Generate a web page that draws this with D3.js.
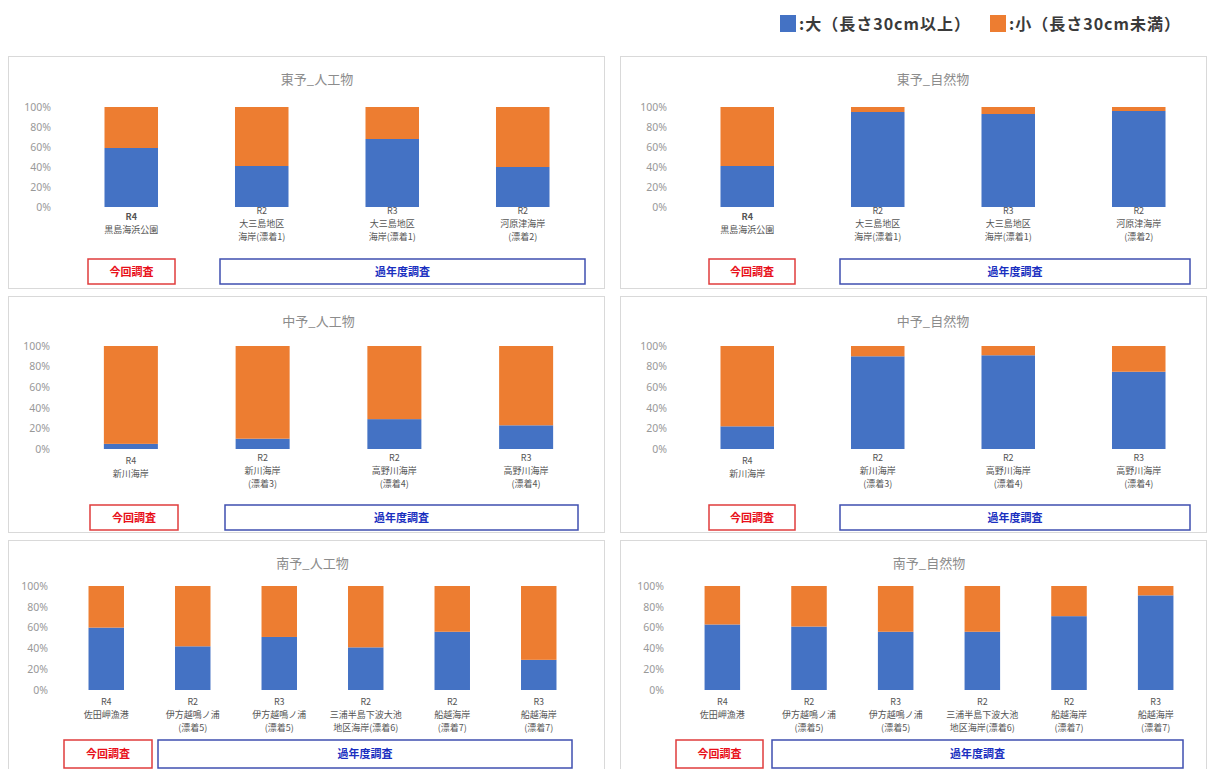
<!DOCTYPE html>
<html>
<head>
<meta charset="utf-8">
<script src="https://d3js.org/d3.v7.min.js"></script>
<style>
  body { margin: 0; background: #fff; }
  svg { display: block; font-family: "Noto Sans CJK JP", "Noto Sans", sans-serif; }
</style>
</head>
<body>
<div id="chart"></div>
<script>
// series names (legend)
var seriesNames = [":大（長さ30cm以上）", ":小（長さ30cm未満）"];
var seriesColors = ["#4472c4", "#ed7d31"];

// panel titles
var panelTitles = ["東予_人工物", "東予_自然物", "中予_人工物", "中予_自然物", "南予_人工物", "南予_自然物"];

// categories (label lines)
var toyoSites = [["R4", "黒島海浜公園"], ["R2", "大三島地区", "海岸(漂着1)"], ["R3", "大三島地区", "海岸(漂着1)"], ["R2", "河原津海岸", "(漂着2)"]];
var chuyoSites = [["R4", "新川海岸"], ["R2", "新川海岸", "(漂着3)"], ["R2", "高野川海岸", "(漂着4)"], ["R3", "高野川海岸", "(漂着4)"]];
var nanyoSites = [["R4", "佐田岬漁港"], ["R2", "伊方越鳴ノ浦", "(漂着5)"], ["R3", "伊方越鳴ノ浦", "(漂着5)"], ["R2", "三浦半島下波大池", "地区海岸(漂着6)"], ["R2", "船越海岸", "(漂着7)"], ["R3", "船越海岸", "(漂着7)"]];

// share of large items (%) per site; small = 100 - large
var toyoArtificial = [59, 41, 68, 40];
var toyoNatural = [41, 95, 93, 96];
var chuyoArtificial = [5, 10, 29, 23];
var chuyoNatural = [22, 90, 91, 75];
var nanyoArtificial = [60, 42, 51, 41, 56, 29];
var nanyoNatural = [63, 61, 56, 56, 71, 91];

var yTicks = [0, 20, 40, 60, 80, 100];
var boxLabels = ["今回調査", "過年度調査"];

var width = 1215, height = 769;

var svg = d3.select("#chart").append("svg")
  .attr("width", width)
  .attr("height", height);

// legend
var legend = svg.append("g");
seriesNames.forEach(function(name, i) {
  var lx = i == 0 ? 780 : 990;
  legend.append("rect")
    .attr("x", lx).attr("y", 15)
    .attr("width", 16).attr("height", 17)
    .attr("fill", seriesColors[i]);
  legend.append("text")
    .attr("x", lx + 19).attr("y", 30)
    .attr("font-size", 16)
    .attr("letter-spacing", 1)
    .attr("font-weight", "bold")
    .attr("fill", "#3a3a3a")
    .text(name);
});

// layout of each panel
var panels = [
  {title: panelTitles[0], sites: toyoSites, vals: toyoArtificial, box: [8, 56, 596, 232], xr: [66, 588], yr: [207, 107], titleY: 84, labY: 214, twoOff: 6, b1: [88, 175], b2: [220, 585], by: [259, 284]},
  {title: panelTitles[1], sites: toyoSites, vals: toyoNatural, box: [620, 56, 586, 232], xr: [682, 1204], yr: [207, 107], titleY: 84, labY: 214, twoOff: 6, b1: [709, 795], b2: [840, 1190], by: [259, 284]},
  {title: panelTitles[2], sites: chuyoSites, vals: chuyoArtificial, box: [8, 296, 596, 236], xr: [65, 592], yr: [449, 346], titleY: 326, labY: 461, twoOff: 3, b1: [90, 178], b2: [225, 578], by: [505, 530]},
  {title: panelTitles[3], sites: chuyoSites, vals: chuyoNatural, box: [620, 296, 586, 236], xr: [682, 1204], yr: [449, 346], titleY: 326, labY: 461, twoOff: 3, b1: [709, 795], b2: [840, 1190], by: [505, 530]},
  {title: panelTitles[4], sites: nanyoSites, vals: nanyoArtificial, box: [8, 540, 596, 240], xr: [63, 582], yr: [690, 586], titleY: 568, labY: 705, twoOff: 0, b1: [64, 152], b2: [158, 572], by: [740, 768]},
  {title: panelTitles[5], sites: nanyoSites, vals: nanyoNatural, box: [620, 540, 586, 240], xr: [679, 1199], yr: [690, 586], titleY: 568, labY: 705, twoOff: 0, b1: [676, 763], b2: [772, 1183], by: [740, 768]}
];

panels.forEach(function(p) {
  var g = svg.append("g");

  // frame
  g.append("rect")
    .attr("x", p.box[0] + 0.5).attr("y", p.box[1] + 0.5)
    .attr("width", p.box[2]).attr("height", p.box[3])
    .attr("fill", "#fff")
    .attr("stroke", "#d9d9d9");

  // title
  g.append("text")
    .attr("x", (p.xr[0] + p.xr[1]) / 2 - 10)
    .attr("y", p.titleY)
    .attr("text-anchor", "middle")
    .attr("font-size", 13)
    .attr("fill", "#8c8c8c")
    .text(p.title);

  var rows = p.sites.map(function(s, i) {
    return {key: i, large: p.vals[i], small: 100 - p.vals[i]};
  });

  var x = d3.scaleBand()
    .domain(rows.map(function(d) { return d.key; }))
    .range(p.xr)
    .paddingInner(0.59)
    .paddingOuter(0.295);

  var y = d3.scaleLinear().domain([0, 100]).range(p.yr);

  var stack = d3.stack().keys(["large", "small"]);
  var layers = stack(rows);

  g.selectAll("g.layer")
    .data(layers)
    .enter().append("g")
      .attr("class", "layer")
      .attr("fill", function(d, i) { return seriesColors[i]; })
    .selectAll("rect")
    .data(function(d) { return d; })
    .enter().append("rect")
      .attr("x", function(d) { return x(d.data.key); })
      .attr("y", function(d) { return y(d[1]); })
      .attr("width", x.bandwidth())
      .attr("height", function(d) { return y(d[0]) - y(d[1]); });

  // y axis
  var yAxis = g.append("g")
    .attr("transform", "translate(" + (p.xr[0] - 12) + ",0)")
    .call(d3.axisLeft(y).tickValues(yTicks).tickSize(0).tickFormat(function(d) { return d + "%"; }));
  yAxis.select(".domain").remove();
  yAxis.selectAll("text")
    .attr("font-size", 10.5)
    .attr("font-family", "Noto Sans, sans-serif")
    .attr("fill", "#999");

  // category labels
  rows.forEach(function(d, i) {
    var lines = p.sites[i];
    var off = lines.length == 2 ? p.twoOff : 0;
    var t = g.append("text")
      .attr("text-anchor", "middle")
      .attr("font-size", 9)
      .attr("fill", "#555");
    lines.forEach(function(line, j) {
      t.append("tspan")
        .attr("x", x(d.key) + x.bandwidth() / 2)
        .attr("y", p.labY + off + j * 13)
        .attr("font-weight", (i == 0 && j == 0 && p.twoOff == 6) ? "bold" : null)
        .text(line);
    });
  });

  // survey boxes
  [[p.b1, "#e03c3c", "#e8101a"], [p.b2, "#3f4fb0", "#1a2fc0"]].forEach(function(b, k) {
    g.append("rect")
      .attr("x", b[0][0]).attr("y", p.by[0])
      .attr("width", b[0][1] - b[0][0]).attr("height", p.by[1] - p.by[0])
      .attr("fill", "#fff")
      .attr("stroke", b[1])
      .attr("stroke-width", 1.5);
    g.append("text")
      .attr("x", (b[0][0] + b[0][1]) / 2)
      .attr("y", (p.by[0] + p.by[1]) / 2 + 4)
      .attr("text-anchor", "middle")
      .attr("font-size", 11)
      .attr("font-weight", "bold")
      .attr("fill", b[2])
      .text(boxLabels[k]);
  });
});
</script>
</body>
</html>
